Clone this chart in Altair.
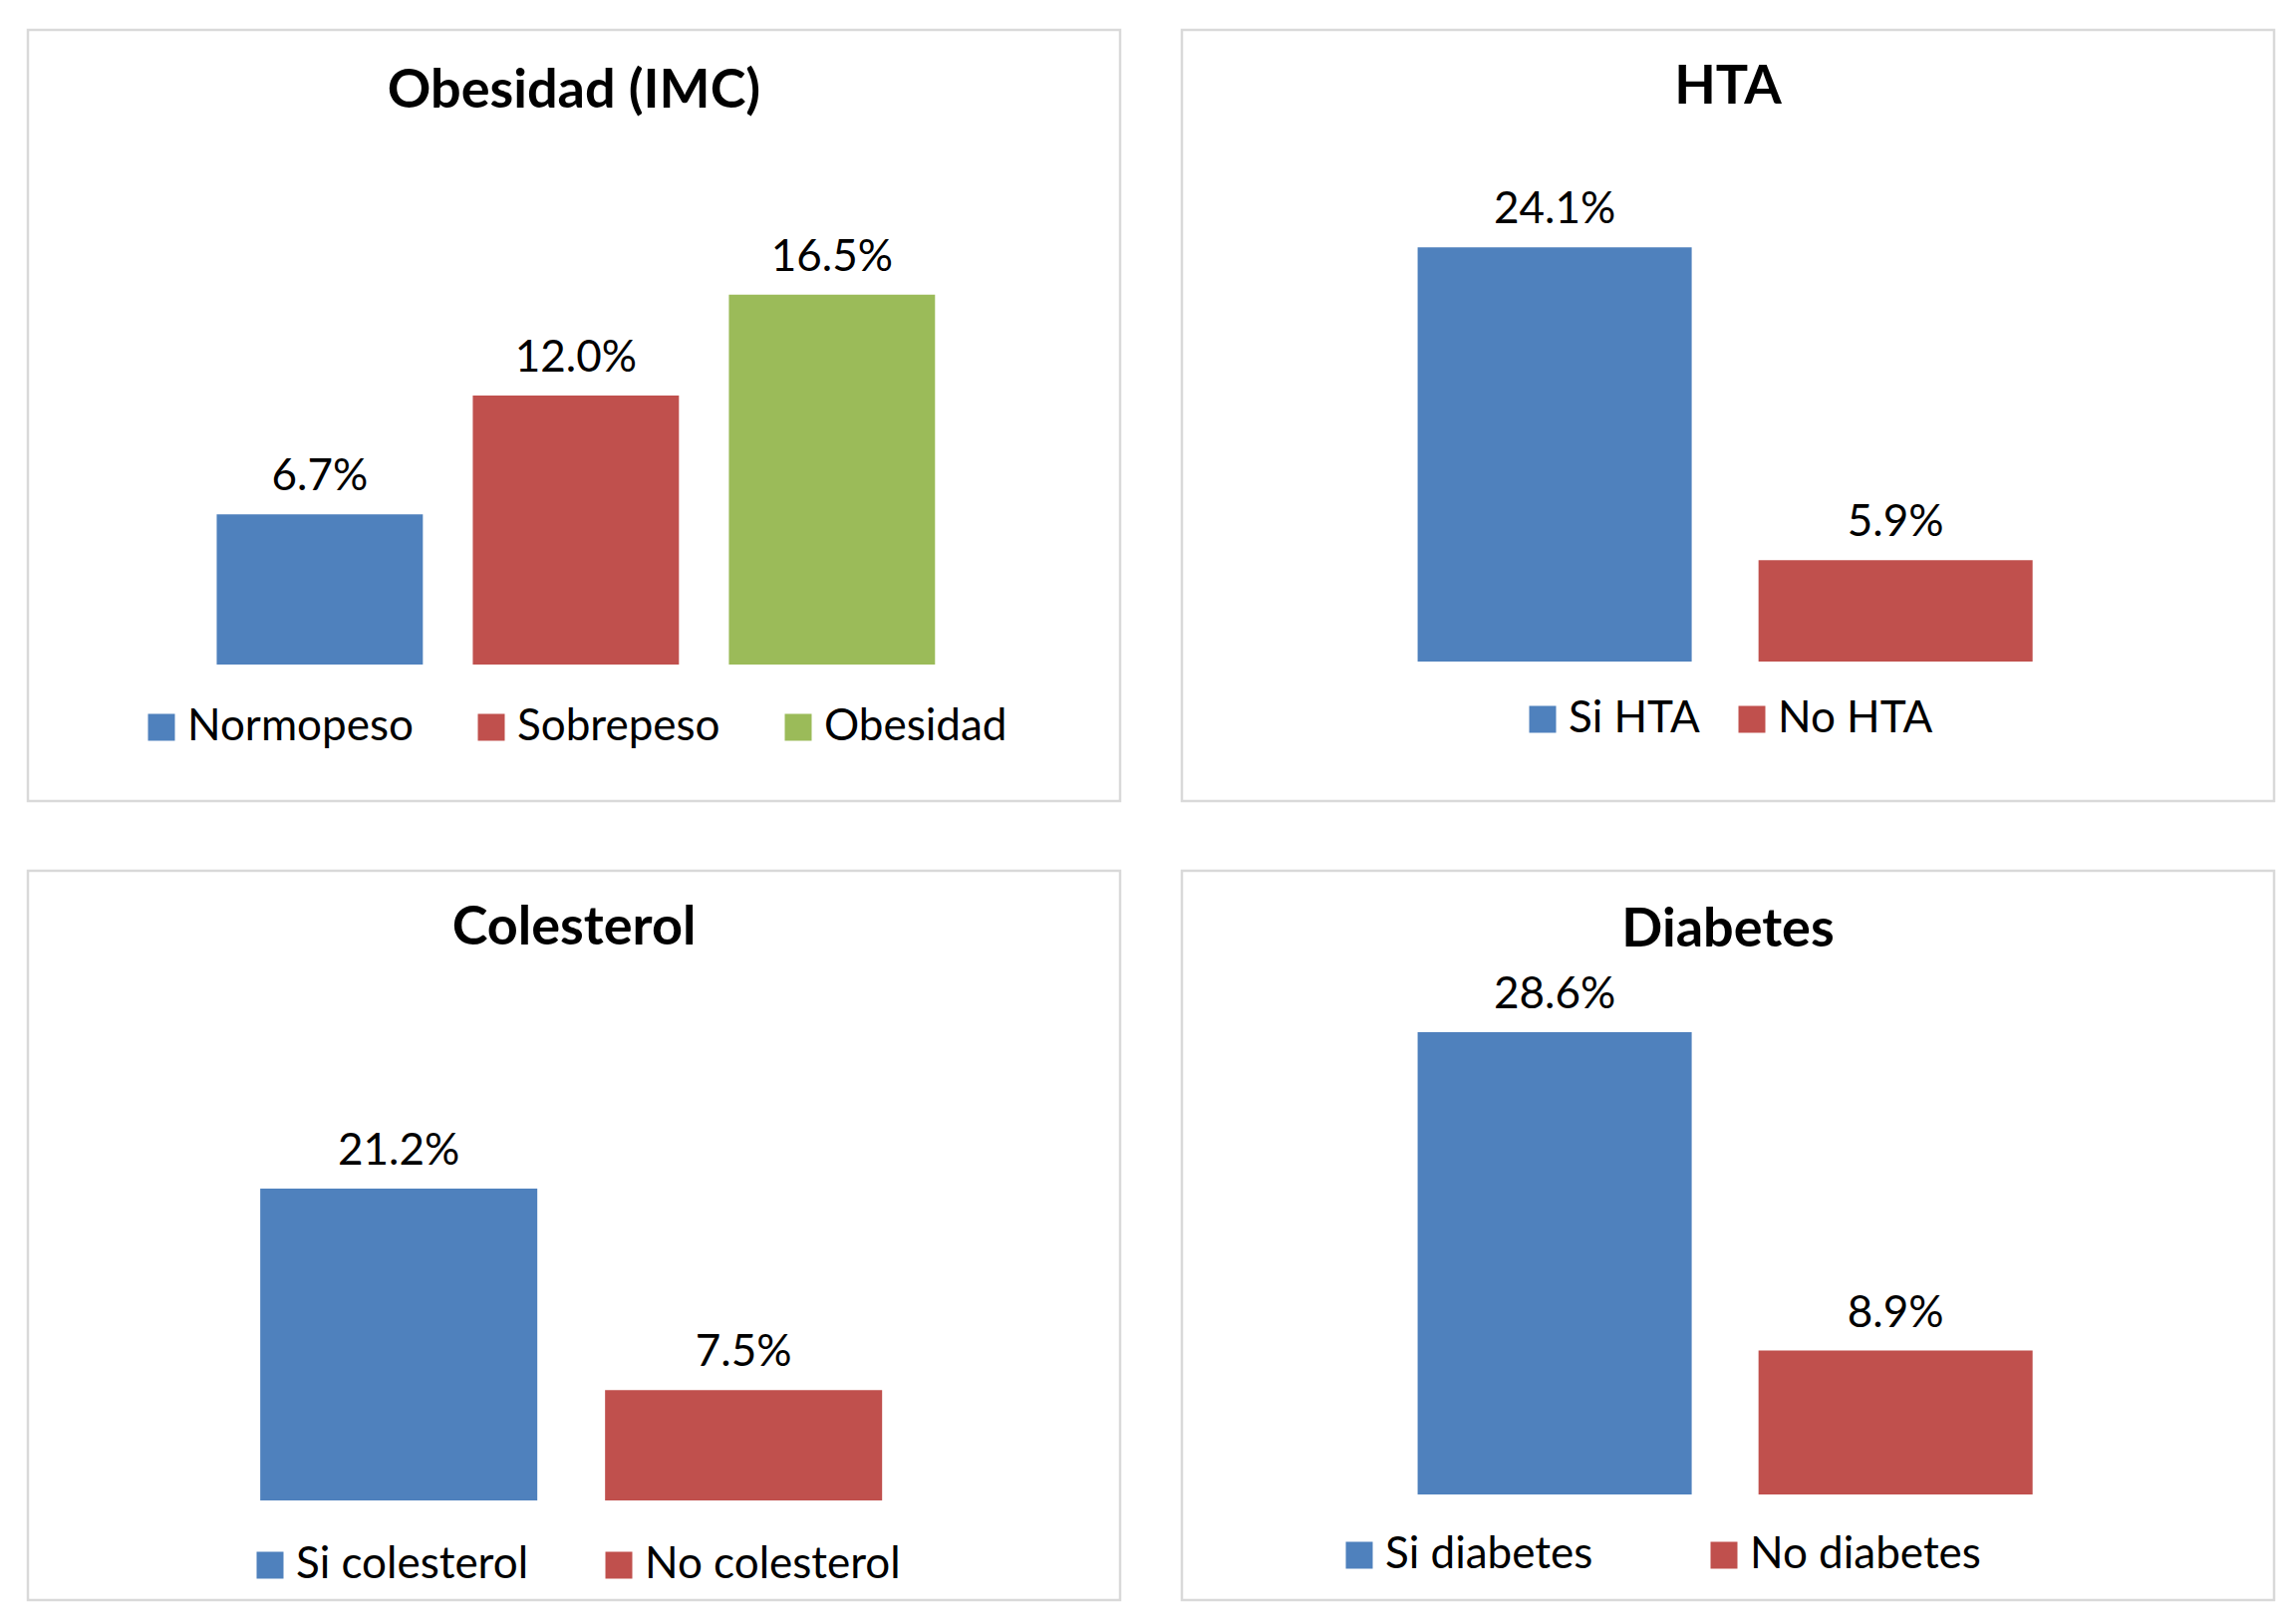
import altair as alt
import pandas as pd

FONT = "Lato"

ob_cats = ["Normopeso", "Sobrepeso", "Obesidad"]
ob_vals = [6.7, 12.0, 16.5]
hta_cats = ["Si HTA", "No HTA"]
hta_vals = [24.1, 5.9]
col_cats = ["Si colesterol", "No colesterol"]
col_vals = [21.2, 7.5]
dia_cats = ["Si diabetes", "No diabetes"]
dia_vals = [28.6, 8.9]

BLUE, RED, GREEN = "#4F81BD", "#C0504D", "#9BBB59"


def panel(title, cats, vals, colors, w, h, ydom, pi, po, align, title_y,
          leg_x, leg_y, col_pad):
    df = pd.DataFrame({"cat": cats, "val": vals,
                       "label": [f"{v:.1f}%" for v in vals]})
    x = alt.X("cat:N", sort=cats, axis=None,
              scale=alt.Scale(paddingInner=pi, paddingOuter=po, align=align))
    y = alt.Y("val:Q", axis=None,
              scale=alt.Scale(domain=ydom, nice=False, zero=False))
    base = alt.Chart(df)
    bars = base.mark_bar().encode(
        x=x, y=y, y2=alt.datum(0),
        color=alt.Color("cat:N", sort=cats,
                        scale=alt.Scale(domain=cats, range=colors),
                        legend=alt.Legend(title=None, orient="none",
                                          legendX=leg_x, legendY=leg_y,
                                          direction="horizontal",
                                          symbolType="square", symbolSize=729,
                                          symbolStrokeWidth=0, symbolOpacity=1,
                                          labelFont=FONT, labelFontSize=44,
                                          labelColor="black", labelLimit=0,
                                          columnPadding=col_pad, labelOffset=4,
                                          padding=0)),
    )
    text = base.mark_text(baseline="alphabetic", dy=-24, font=FONT,
                          fontSize=44, color="black").encode(
        x=x, y=y, text="label:N")
    ttl = alt.Chart(pd.DataFrame({"t": [title]})).mark_text(
        baseline="alphabetic", align="center", font=FONT, fontSize=54,
        fontWeight="bold", color="black").encode(
        x=alt.value(w / 2), y=alt.value(title_y), text="t:N")
    return alt.layer(bars, text, ttl).properties(width=w, height=h)


p1 = panel("Obesidad (IMC)", ob_cats, ob_vals, [BLUE, RED, GREEN], 1096, 774,
           [-6.09, 28.31], 0.195, 0.73, 0.505, 78, 112, 678, 56)
p2 = panel("HTA", hta_cats, hta_vals, [BLUE, RED], 1096, 774,
           [-8.12, 36.75], 0.196, 0.70, 0.494, 74, 340, 670, 30)
p3 = panel("Colesterol", col_cats, col_vals, [BLUE, RED], 1096, 732,
           [-6.77, 42.79], 0.1965, 0.682, 0.494, 74, 221, 675, 68)
p4 = panel("Diabetes", dia_cats, dia_vals, [BLUE, RED], 1096, 732,
           [-6.54, 38.59], 0.196, 0.70, 0.494, 76, 156, 665, 109)

top = alt.hconcat(p1, p2, spacing=58).resolve_scale(
    color="independent", x="independent", y="independent").resolve_legend(color="independent")
bottom = alt.hconcat(p3, p4, spacing=58).resolve_scale(
    color="independent", x="independent", y="independent").resolve_legend(color="independent")

chart = alt.vconcat(top, bottom, spacing=66).resolve_scale(
    color="independent", x="independent", y="independent").resolve_legend(
    color="independent").configure_view(
    stroke="#D9D9D9", strokeWidth=2.5).properties(
    padding={"left": 18, "top": 20, "right": 0, "bottom": 0},
    background="white")

chart.save("out.html", embed_options={"renderer": "svg", "actions": False})
